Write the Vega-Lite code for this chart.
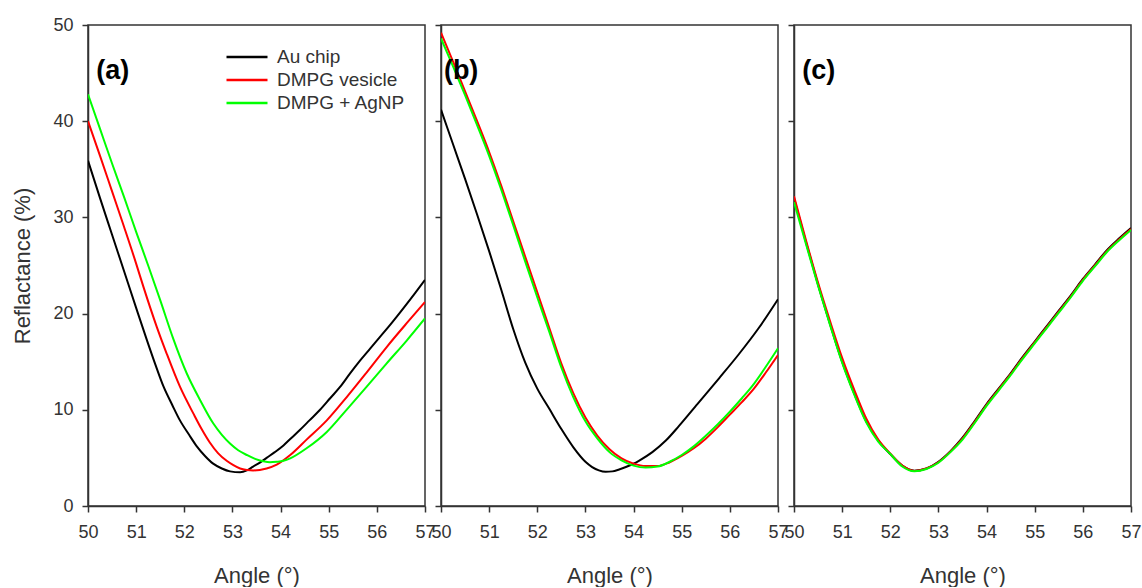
{
  "$schema": "https://vega.github.io/schema/vega-lite/v6.json",
  "background": "white",
  "padding": {"left": 11, "top": 15, "right": 5, "bottom": 0},
  "spacing": 16,
  "bounds": "flush",
  "config": {
    "view": {"stroke": "#333333", "strokeWidth": 1.5},
    "axis": {
      "grid": false,
      "domainColor": "#333333",
      "domainWidth": 1.5,
      "tickColor": "#333333",
      "tickWidth": 1.5,
      "tickSize": 6,
      "labelFont": "Liberation Sans",
      "labelFontSize": 18,
      "labelColor": "#333333",
      "titleFont": "Liberation Sans",
      "titleFontSize": 22,
      "titleFontWeight": "normal",
      "titleColor": "#333333"
    }
  },
  "data": {
    "values": [
      {"panel":"a","series":"Au chip","angle":50.0,"refl":35.9},
      {"panel":"a","series":"Au chip","angle":50.25,"refl":32.0},
      {"panel":"a","series":"Au chip","angle":50.5,"refl":28.2},
      {"panel":"a","series":"Au chip","angle":50.75,"refl":24.4},
      {"panel":"a","series":"Au chip","angle":51.0,"refl":20.6},
      {"panel":"a","series":"Au chip","angle":51.22,"refl":17.3},
      {"panel":"a","series":"Au chip","angle":51.4,"refl":14.7},
      {"panel":"a","series":"Au chip","angle":51.57,"refl":12.4},
      {"panel":"a","series":"Au chip","angle":51.75,"refl":10.5},
      {"panel":"a","series":"Au chip","angle":51.91,"refl":8.9},
      {"panel":"a","series":"Au chip","angle":52.1,"refl":7.4},
      {"panel":"a","series":"Au chip","angle":52.26,"refl":6.2},
      {"panel":"a","series":"Au chip","angle":52.43,"refl":5.2},
      {"panel":"a","series":"Au chip","angle":52.6,"refl":4.4},
      {"panel":"a","series":"Au chip","angle":52.78,"refl":3.9},
      {"panel":"a","series":"Au chip","angle":52.95,"refl":3.6},
      {"panel":"a","series":"Au chip","angle":53.16,"refl":3.5},
      {"panel":"a","series":"Au chip","angle":53.3,"refl":3.7},
      {"panel":"a","series":"Au chip","angle":53.43,"refl":4.1},
      {"panel":"a","series":"Au chip","angle":53.57,"refl":4.5},
      {"panel":"a","series":"Au chip","angle":53.71,"refl":5.0},
      {"panel":"a","series":"Au chip","angle":53.88,"refl":5.6},
      {"panel":"a","series":"Au chip","angle":54.06,"refl":6.3},
      {"panel":"a","series":"Au chip","angle":54.23,"refl":7.1},
      {"panel":"a","series":"Au chip","angle":54.4,"refl":7.9},
      {"panel":"a","series":"Au chip","angle":54.6,"refl":8.9},
      {"panel":"a","series":"Au chip","angle":54.82,"refl":10.0},
      {"panel":"a","series":"Au chip","angle":55.03,"refl":11.2},
      {"panel":"a","series":"Au chip","angle":55.24,"refl":12.4},
      {"panel":"a","series":"Au chip","angle":55.44,"refl":13.75},
      {"panel":"a","series":"Au chip","angle":55.65,"refl":15.1},
      {"panel":"a","series":"Au chip","angle":55.86,"refl":16.35},
      {"panel":"a","series":"Au chip","angle":56.07,"refl":17.6},
      {"panel":"a","series":"Au chip","angle":56.28,"refl":18.85},
      {"panel":"a","series":"Au chip","angle":56.48,"refl":20.1},
      {"panel":"a","series":"Au chip","angle":56.79,"refl":22.1},
      {"panel":"a","series":"Au chip","angle":57.0,"refl":23.5},

      {"panel":"a","series":"DMPG vesicle","angle":50.0,"refl":40.0},
      {"panel":"a","series":"DMPG vesicle","angle":50.25,"refl":36.4},
      {"panel":"a","series":"DMPG vesicle","angle":50.5,"refl":32.7},
      {"panel":"a","series":"DMPG vesicle","angle":50.75,"refl":29.0},
      {"panel":"a","series":"DMPG vesicle","angle":51.0,"refl":25.2},
      {"panel":"a","series":"DMPG vesicle","angle":51.15,"refl":22.8},
      {"panel":"a","series":"DMPG vesicle","angle":51.43,"refl":18.6},
      {"panel":"a","series":"DMPG vesicle","angle":51.63,"refl":15.9},
      {"panel":"a","series":"DMPG vesicle","angle":51.91,"refl":12.4},
      {"panel":"a","series":"DMPG vesicle","angle":52.19,"refl":9.6},
      {"panel":"a","series":"DMPG vesicle","angle":52.36,"refl":8.0},
      {"panel":"a","series":"DMPG vesicle","angle":52.53,"refl":6.6},
      {"panel":"a","series":"DMPG vesicle","angle":52.7,"refl":5.5},
      {"panel":"a","series":"DMPG vesicle","angle":52.88,"refl":4.7},
      {"panel":"a","series":"DMPG vesicle","angle":53.02,"refl":4.25},
      {"panel":"a","series":"DMPG vesicle","angle":53.16,"refl":3.9},
      {"panel":"a","series":"DMPG vesicle","angle":53.3,"refl":3.75},
      {"panel":"a","series":"DMPG vesicle","angle":53.43,"refl":3.7},
      {"panel":"a","series":"DMPG vesicle","angle":53.57,"refl":3.75},
      {"panel":"a","series":"DMPG vesicle","angle":53.71,"refl":3.9},
      {"panel":"a","series":"DMPG vesicle","angle":53.92,"refl":4.3},
      {"panel":"a","series":"DMPG vesicle","angle":54.2,"refl":5.3},
      {"panel":"a","series":"DMPG vesicle","angle":54.54,"refl":6.9},
      {"panel":"a","series":"DMPG vesicle","angle":54.96,"refl":8.9},
      {"panel":"a","series":"DMPG vesicle","angle":55.37,"refl":11.3},
      {"panel":"a","series":"DMPG vesicle","angle":55.79,"refl":13.9},
      {"panel":"a","series":"DMPG vesicle","angle":56.2,"refl":16.5},
      {"panel":"a","series":"DMPG vesicle","angle":56.62,"refl":19.0},
      {"panel":"a","series":"DMPG vesicle","angle":57.0,"refl":21.2},

      {"panel":"a","series":"DMPG + AgNP","angle":50.0,"refl":42.8},
      {"panel":"a","series":"DMPG + AgNP","angle":50.25,"refl":39.2},
      {"panel":"a","series":"DMPG + AgNP","angle":50.5,"refl":35.6},
      {"panel":"a","series":"DMPG + AgNP","angle":50.75,"refl":32.1},
      {"panel":"a","series":"DMPG + AgNP","angle":51.0,"refl":28.5},
      {"panel":"a","series":"DMPG + AgNP","angle":51.25,"refl":25.0},
      {"panel":"a","series":"DMPG + AgNP","angle":51.5,"refl":21.4},
      {"panel":"a","series":"DMPG + AgNP","angle":51.77,"refl":17.4},
      {"panel":"a","series":"DMPG + AgNP","angle":52.05,"refl":13.8},
      {"panel":"a","series":"DMPG + AgNP","angle":52.33,"refl":11.0},
      {"panel":"a","series":"DMPG + AgNP","angle":52.6,"refl":8.6},
      {"panel":"a","series":"DMPG + AgNP","angle":52.78,"refl":7.4},
      {"panel":"a","series":"DMPG + AgNP","angle":52.95,"refl":6.5},
      {"panel":"a","series":"DMPG + AgNP","angle":53.12,"refl":5.8},
      {"panel":"a","series":"DMPG + AgNP","angle":53.3,"refl":5.3},
      {"panel":"a","series":"DMPG + AgNP","angle":53.47,"refl":4.9},
      {"panel":"a","series":"DMPG + AgNP","angle":53.64,"refl":4.65},
      {"panel":"a","series":"DMPG + AgNP","angle":53.78,"refl":4.55},
      {"panel":"a","series":"DMPG + AgNP","angle":53.92,"refl":4.6},
      {"panel":"a","series":"DMPG + AgNP","angle":54.06,"refl":4.7},
      {"panel":"a","series":"DMPG + AgNP","angle":54.2,"refl":4.95},
      {"panel":"a","series":"DMPG + AgNP","angle":54.54,"refl":6.0},
      {"panel":"a","series":"DMPG + AgNP","angle":54.96,"refl":7.7},
      {"panel":"a","series":"DMPG + AgNP","angle":55.37,"refl":10.0},
      {"panel":"a","series":"DMPG + AgNP","angle":55.79,"refl":12.4},
      {"panel":"a","series":"DMPG + AgNP","angle":56.2,"refl":14.8},
      {"panel":"a","series":"DMPG + AgNP","angle":56.62,"refl":17.2},
      {"panel":"a","series":"DMPG + AgNP","angle":57.0,"refl":19.5},

      {"panel":"b","series":"Au chip","angle":50.0,"refl":41.2},
      {"panel":"b","series":"Au chip","angle":50.25,"refl":37.6},
      {"panel":"b","series":"Au chip","angle":50.5,"refl":34.0},
      {"panel":"b","series":"Au chip","angle":50.75,"refl":30.3},
      {"panel":"b","series":"Au chip","angle":51.0,"refl":26.5},
      {"panel":"b","series":"Au chip","angle":51.25,"refl":22.5},
      {"panel":"b","series":"Au chip","angle":51.5,"refl":18.4},
      {"panel":"b","series":"Au chip","angle":51.75,"refl":14.9},
      {"panel":"b","series":"Au chip","angle":52.0,"refl":12.2},
      {"panel":"b","series":"Au chip","angle":52.25,"refl":10.1},
      {"panel":"b","series":"Au chip","angle":52.5,"refl":8.0},
      {"panel":"b","series":"Au chip","angle":52.75,"refl":6.1},
      {"panel":"b","series":"Au chip","angle":53.0,"refl":4.6},
      {"panel":"b","series":"Au chip","angle":53.14,"refl":4.05},
      {"panel":"b","series":"Au chip","angle":53.28,"refl":3.7},
      {"panel":"b","series":"Au chip","angle":53.42,"refl":3.55},
      {"panel":"b","series":"Au chip","angle":53.56,"refl":3.6},
      {"panel":"b","series":"Au chip","angle":53.7,"refl":3.8},
      {"panel":"b","series":"Au chip","angle":53.84,"refl":4.05},
      {"panel":"b","series":"Au chip","angle":54.0,"refl":4.4},
      {"panel":"b","series":"Au chip","angle":54.11,"refl":4.7},
      {"panel":"b","series":"Au chip","angle":54.39,"refl":5.6},
      {"panel":"b","series":"Au chip","angle":54.67,"refl":6.8},
      {"panel":"b","series":"Au chip","angle":54.94,"refl":8.3},
      {"panel":"b","series":"Au chip","angle":55.36,"refl":10.8},
      {"panel":"b","series":"Au chip","angle":55.78,"refl":13.3},
      {"panel":"b","series":"Au chip","angle":56.19,"refl":15.8},
      {"panel":"b","series":"Au chip","angle":56.6,"refl":18.5},
      {"panel":"b","series":"Au chip","angle":57.0,"refl":21.5},

      {"panel":"b","series":"DMPG vesicle","angle":50.0,"refl":49.2},
      {"panel":"b","series":"DMPG vesicle","angle":50.25,"refl":46.2},
      {"panel":"b","series":"DMPG vesicle","angle":50.5,"refl":43.1},
      {"panel":"b","series":"DMPG vesicle","angle":50.75,"refl":40.0},
      {"panel":"b","series":"DMPG vesicle","angle":51.0,"refl":36.8},
      {"panel":"b","series":"DMPG vesicle","angle":51.25,"refl":33.3},
      {"panel":"b","series":"DMPG vesicle","angle":51.5,"refl":29.6},
      {"panel":"b","series":"DMPG vesicle","angle":51.75,"refl":25.9},
      {"panel":"b","series":"DMPG vesicle","angle":52.0,"refl":22.2},
      {"panel":"b","series":"DMPG vesicle","angle":52.25,"refl":18.5},
      {"panel":"b","series":"DMPG vesicle","angle":52.5,"refl":14.8},
      {"panel":"b","series":"DMPG vesicle","angle":52.75,"refl":11.7},
      {"panel":"b","series":"DMPG vesicle","angle":53.0,"refl":9.2},
      {"panel":"b","series":"DMPG vesicle","angle":53.25,"refl":7.3},
      {"panel":"b","series":"DMPG vesicle","angle":53.5,"refl":5.9},
      {"panel":"b","series":"DMPG vesicle","angle":53.75,"refl":4.95},
      {"panel":"b","series":"DMPG vesicle","angle":54.0,"refl":4.4},
      {"panel":"b","series":"DMPG vesicle","angle":54.25,"refl":4.15},
      {"panel":"b","series":"DMPG vesicle","angle":54.5,"refl":4.15},
      {"panel":"b","series":"DMPG vesicle","angle":54.75,"refl":4.55},
      {"panel":"b","series":"DMPG vesicle","angle":55.0,"refl":5.2},
      {"panel":"b","series":"DMPG vesicle","angle":55.25,"refl":6.0},
      {"panel":"b","series":"DMPG vesicle","angle":55.5,"refl":7.0},
      {"panel":"b","series":"DMPG vesicle","angle":55.75,"refl":8.2},
      {"panel":"b","series":"DMPG vesicle","angle":56.0,"refl":9.5},
      {"panel":"b","series":"DMPG vesicle","angle":56.25,"refl":10.8},
      {"panel":"b","series":"DMPG vesicle","angle":56.5,"refl":12.2},
      {"panel":"b","series":"DMPG vesicle","angle":56.75,"refl":13.9},
      {"panel":"b","series":"DMPG vesicle","angle":57.0,"refl":15.7},

      {"panel":"b","series":"DMPG + AgNP","angle":50.0,"refl":48.6},
      {"panel":"b","series":"DMPG + AgNP","angle":50.25,"refl":45.7},
      {"panel":"b","series":"DMPG + AgNP","angle":50.5,"refl":42.7},
      {"panel":"b","series":"DMPG + AgNP","angle":50.75,"refl":39.6},
      {"panel":"b","series":"DMPG + AgNP","angle":51.0,"refl":36.4},
      {"panel":"b","series":"DMPG + AgNP","angle":51.25,"refl":32.9},
      {"panel":"b","series":"DMPG + AgNP","angle":51.5,"refl":29.2},
      {"panel":"b","series":"DMPG + AgNP","angle":51.75,"refl":25.4},
      {"panel":"b","series":"DMPG + AgNP","angle":52.0,"refl":21.7},
      {"panel":"b","series":"DMPG + AgNP","angle":52.25,"refl":18.1},
      {"panel":"b","series":"DMPG + AgNP","angle":52.5,"refl":14.4},
      {"panel":"b","series":"DMPG + AgNP","angle":52.75,"refl":11.3},
      {"panel":"b","series":"DMPG + AgNP","angle":53.0,"refl":8.8},
      {"panel":"b","series":"DMPG + AgNP","angle":53.25,"refl":7.0},
      {"panel":"b","series":"DMPG + AgNP","angle":53.5,"refl":5.6},
      {"panel":"b","series":"DMPG + AgNP","angle":53.75,"refl":4.75},
      {"panel":"b","series":"DMPG + AgNP","angle":54.0,"refl":4.2},
      {"panel":"b","series":"DMPG + AgNP","angle":54.25,"refl":4.0},
      {"panel":"b","series":"DMPG + AgNP","angle":54.5,"refl":4.1},
      {"panel":"b","series":"DMPG + AgNP","angle":54.75,"refl":4.6},
      {"panel":"b","series":"DMPG + AgNP","angle":55.0,"refl":5.3},
      {"panel":"b","series":"DMPG + AgNP","angle":55.25,"refl":6.2},
      {"panel":"b","series":"DMPG + AgNP","angle":55.5,"refl":7.3},
      {"panel":"b","series":"DMPG + AgNP","angle":55.75,"refl":8.5},
      {"panel":"b","series":"DMPG + AgNP","angle":56.0,"refl":9.8},
      {"panel":"b","series":"DMPG + AgNP","angle":56.25,"refl":11.2},
      {"panel":"b","series":"DMPG + AgNP","angle":56.5,"refl":12.7},
      {"panel":"b","series":"DMPG + AgNP","angle":56.75,"refl":14.5},
      {"panel":"b","series":"DMPG + AgNP","angle":57.0,"refl":16.4},

      {"panel":"c","series":"Au chip","angle":50.0,"refl":32.0},
      {"panel":"c","series":"Au chip","angle":50.25,"refl":27.4},
      {"panel":"c","series":"Au chip","angle":50.5,"refl":23.0},
      {"panel":"c","series":"Au chip","angle":50.75,"refl":18.9},
      {"panel":"c","series":"Au chip","angle":51.0,"refl":15.0},
      {"panel":"c","series":"Au chip","angle":51.25,"refl":11.7},
      {"panel":"c","series":"Au chip","angle":51.5,"refl":8.8},
      {"panel":"c","series":"Au chip","angle":51.75,"refl":6.8},
      {"panel":"c","series":"Au chip","angle":52.0,"refl":5.4},
      {"panel":"c","series":"Au chip","angle":52.25,"refl":4.2},
      {"panel":"c","series":"Au chip","angle":52.5,"refl":3.67},
      {"panel":"c","series":"Au chip","angle":52.75,"refl":3.9},
      {"panel":"c","series":"Au chip","angle":53.0,"refl":4.6},
      {"panel":"c","series":"Au chip","angle":53.25,"refl":5.7},
      {"panel":"c","series":"Au chip","angle":53.5,"refl":7.1},
      {"panel":"c","series":"Au chip","angle":53.75,"refl":8.8},
      {"panel":"c","series":"Au chip","angle":54.0,"refl":10.6},
      {"panel":"c","series":"Au chip","angle":54.25,"refl":12.2},
      {"panel":"c","series":"Au chip","angle":54.5,"refl":13.8},
      {"panel":"c","series":"Au chip","angle":54.75,"refl":15.5},
      {"panel":"c","series":"Au chip","angle":55.0,"refl":17.1},
      {"panel":"c","series":"Au chip","angle":55.25,"refl":18.7},
      {"panel":"c","series":"Au chip","angle":55.5,"refl":20.3},
      {"panel":"c","series":"Au chip","angle":55.75,"refl":21.9},
      {"panel":"c","series":"Au chip","angle":56.0,"refl":23.6},
      {"panel":"c","series":"Au chip","angle":56.25,"refl":25.1},
      {"panel":"c","series":"Au chip","angle":56.5,"refl":26.6},
      {"panel":"c","series":"Au chip","angle":56.75,"refl":27.8},
      {"panel":"c","series":"Au chip","angle":57.0,"refl":28.9},

      {"panel":"c","series":"DMPG vesicle","angle":50.0,"refl":32.2},
      {"panel":"c","series":"DMPG vesicle","angle":50.25,"refl":27.6},
      {"panel":"c","series":"DMPG vesicle","angle":50.5,"refl":23.2},
      {"panel":"c","series":"DMPG vesicle","angle":50.75,"refl":19.2},
      {"panel":"c","series":"DMPG vesicle","angle":51.0,"refl":15.4},
      {"panel":"c","series":"DMPG vesicle","angle":51.25,"refl":12.1},
      {"panel":"c","series":"DMPG vesicle","angle":51.5,"refl":9.1},
      {"panel":"c","series":"DMPG vesicle","angle":51.75,"refl":6.9},
      {"panel":"c","series":"DMPG vesicle","angle":52.0,"refl":5.45},
      {"panel":"c","series":"DMPG vesicle","angle":52.25,"refl":4.2},
      {"panel":"c","series":"DMPG vesicle","angle":52.5,"refl":3.65},
      {"panel":"c","series":"DMPG vesicle","angle":52.75,"refl":3.9},
      {"panel":"c","series":"DMPG vesicle","angle":53.0,"refl":4.55},
      {"panel":"c","series":"DMPG vesicle","angle":53.25,"refl":5.65},
      {"panel":"c","series":"DMPG vesicle","angle":53.5,"refl":7.0},
      {"panel":"c","series":"DMPG vesicle","angle":53.75,"refl":8.7},
      {"panel":"c","series":"DMPG vesicle","angle":54.0,"refl":10.5},
      {"panel":"c","series":"DMPG vesicle","angle":54.25,"refl":12.1},
      {"panel":"c","series":"DMPG vesicle","angle":54.5,"refl":13.7},
      {"panel":"c","series":"DMPG vesicle","angle":54.75,"refl":15.4},
      {"panel":"c","series":"DMPG vesicle","angle":55.0,"refl":17.0},
      {"panel":"c","series":"DMPG vesicle","angle":55.25,"refl":18.6},
      {"panel":"c","series":"DMPG vesicle","angle":55.5,"refl":20.2},
      {"panel":"c","series":"DMPG vesicle","angle":55.75,"refl":21.8},
      {"panel":"c","series":"DMPG vesicle","angle":56.0,"refl":23.5},
      {"panel":"c","series":"DMPG vesicle","angle":56.25,"refl":25.0},
      {"panel":"c","series":"DMPG vesicle","angle":56.5,"refl":26.5},
      {"panel":"c","series":"DMPG vesicle","angle":56.75,"refl":27.7},
      {"panel":"c","series":"DMPG vesicle","angle":57.0,"refl":28.8},

      {"panel":"c","series":"DMPG + AgNP","angle":50.0,"refl":31.6},
      {"panel":"c","series":"DMPG + AgNP","angle":50.25,"refl":27.2},
      {"panel":"c","series":"DMPG + AgNP","angle":50.5,"refl":22.9},
      {"panel":"c","series":"DMPG + AgNP","angle":50.75,"refl":18.8},
      {"panel":"c","series":"DMPG + AgNP","angle":51.0,"refl":14.9},
      {"panel":"c","series":"DMPG + AgNP","angle":51.25,"refl":11.6},
      {"panel":"c","series":"DMPG + AgNP","angle":51.5,"refl":8.7},
      {"panel":"c","series":"DMPG + AgNP","angle":51.75,"refl":6.7},
      {"panel":"c","series":"DMPG + AgNP","angle":52.0,"refl":5.4},
      {"panel":"c","series":"DMPG + AgNP","angle":52.25,"refl":4.1},
      {"panel":"c","series":"DMPG + AgNP","angle":52.5,"refl":3.6},
      {"panel":"c","series":"DMPG + AgNP","angle":52.75,"refl":3.85},
      {"panel":"c","series":"DMPG + AgNP","angle":53.0,"refl":4.5},
      {"panel":"c","series":"DMPG + AgNP","angle":53.25,"refl":5.6},
      {"panel":"c","series":"DMPG + AgNP","angle":53.5,"refl":6.9},
      {"panel":"c","series":"DMPG + AgNP","angle":53.75,"refl":8.6},
      {"panel":"c","series":"DMPG + AgNP","angle":54.0,"refl":10.4},
      {"panel":"c","series":"DMPG + AgNP","angle":54.25,"refl":12.0},
      {"panel":"c","series":"DMPG + AgNP","angle":54.5,"refl":13.6},
      {"panel":"c","series":"DMPG + AgNP","angle":54.75,"refl":15.3},
      {"panel":"c","series":"DMPG + AgNP","angle":55.0,"refl":16.9},
      {"panel":"c","series":"DMPG + AgNP","angle":55.25,"refl":18.5},
      {"panel":"c","series":"DMPG + AgNP","angle":55.5,"refl":20.1},
      {"panel":"c","series":"DMPG + AgNP","angle":55.75,"refl":21.7},
      {"panel":"c","series":"DMPG + AgNP","angle":56.0,"refl":23.4},
      {"panel":"c","series":"DMPG + AgNP","angle":56.25,"refl":24.9},
      {"panel":"c","series":"DMPG + AgNP","angle":56.5,"refl":26.4},
      {"panel":"c","series":"DMPG + AgNP","angle":56.75,"refl":27.6},
      {"panel":"c","series":"DMPG + AgNP","angle":57.0,"refl":28.7}
    ]
  },
  "hconcat": [
    {
      "width": 337,
      "height": 481,
      "layer": [
        {
          "transform": [{"filter": "datum.panel === 'a'"}],
          "mark": {"type": "line", "strokeWidth": 2, "interpolate": "monotone", "clip": true},
          "encoding": {
            "x": {"field": "angle", "type": "quantitative", "scale": {"domain": [50, 57], "nice": false, "zero": false},
                  "axis": {"values": [50,51,52,53,54,55,56,57], "title": "Angle (°)", "labelFlush": false, "labelOverlap": false, "labelPadding": 11, "titlePadding": 24}},
            "y": {"field": "refl", "type": "quantitative", "scale": {"domain": [0, 50], "nice": false},
                  "axis": {"values": [0,10,20,30,40,50], "title": "Reflactance (%)", "labelFlush": false, "labelOverlap": false, "labelPadding": 9, "titlePadding": 18}},
            "color": {"field": "series", "type": "nominal",
                      "scale": {"domain": ["Au chip", "DMPG vesicle", "DMPG + AgNP"], "range": ["#000000", "#ff0000", "#00ff00"]},
                      "legend": {"orient": "none", "legendX": 137, "legendY": 20.5, "title": null, "padding": 0,
                                 "symbolType": "stroke", "symbolSize": 1681, "symbolStrokeWidth": 2.5,
                                 "labelFont": "Liberation Sans", "labelFontSize": 19, "labelColor": "#333333",
                                 "labelOffset": 8, "rowPadding": 0, "clipHeight": 23}}
          }
        },
        {
          "data": {"values": [{"label": "(a)"}]},
          "mark": {"type": "text", "font": "Liberation Sans", "fontWeight": "bold", "fontSize": 27, "align": "left", "baseline": "middle", "color": "#000000"},
          "encoding": {"x": {"datum": 50.17}, "y": {"datum": 45.2}, "text": {"field": "label"}}
        }
      ]
    },
    {
      "width": 337,
      "height": 481,
      "layer": [
        {
          "transform": [{"filter": "datum.panel === 'b'"}],
          "mark": {"type": "line", "strokeWidth": 2, "interpolate": "monotone", "clip": true},
          "encoding": {
            "x": {"field": "angle", "type": "quantitative", "scale": {"domain": [50, 57], "nice": false, "zero": false},
                  "axis": {"values": [50,51,52,53,54,55,56,57], "title": "Angle (°)", "labelFlush": false, "labelOverlap": false, "labelPadding": 11, "titlePadding": 24}},
            "y": {"field": "refl", "type": "quantitative", "scale": {"domain": [0, 50], "nice": false},
                  "axis": {"values": [0,10,20,30,40,50], "title": null, "labels": false}},
            "color": {"field": "series", "type": "nominal",
                      "scale": {"domain": ["Au chip", "DMPG vesicle", "DMPG + AgNP"], "range": ["#000000", "#ff0000", "#00ff00"]},
                      "legend": null}
          }
        },
        {
          "data": {"values": [{"label": "(b)"}]},
          "mark": {"type": "text", "font": "Liberation Sans", "fontWeight": "bold", "fontSize": 27, "align": "left", "baseline": "middle", "color": "#000000"},
          "encoding": {"x": {"datum": 50.06}, "y": {"datum": 45.2}, "text": {"field": "label"}}
        }
      ]
    },
    {
      "width": 337,
      "height": 481,
      "layer": [
        {
          "transform": [{"filter": "datum.panel === 'c'"}],
          "mark": {"type": "line", "strokeWidth": 2, "interpolate": "monotone", "clip": true},
          "encoding": {
            "x": {"field": "angle", "type": "quantitative", "scale": {"domain": [50, 57], "nice": false, "zero": false},
                  "axis": {"values": [50,51,52,53,54,55,56,57], "title": "Angle (°)", "labelFlush": false, "labelOverlap": false, "labelPadding": 11, "titlePadding": 24}},
            "y": {"field": "refl", "type": "quantitative", "scale": {"domain": [0, 50], "nice": false},
                  "axis": {"values": [0,10,20,30,40,50], "title": null, "labels": false}},
            "color": {"field": "series", "type": "nominal",
                      "scale": {"domain": ["Au chip", "DMPG vesicle", "DMPG + AgNP"], "range": ["#000000", "#ff0000", "#00ff00"]},
                      "legend": null}
          }
        },
        {
          "data": {"values": [{"label": "(c)"}]},
          "mark": {"type": "text", "font": "Liberation Sans", "fontWeight": "bold", "fontSize": 27, "align": "left", "baseline": "middle", "color": "#000000"},
          "encoding": {"x": {"datum": 50.17}, "y": {"datum": 45.2}, "text": {"field": "label"}}
        }
      ]
    }
  ],
  "resolve": {"legend": {"color": "independent"}}
}
